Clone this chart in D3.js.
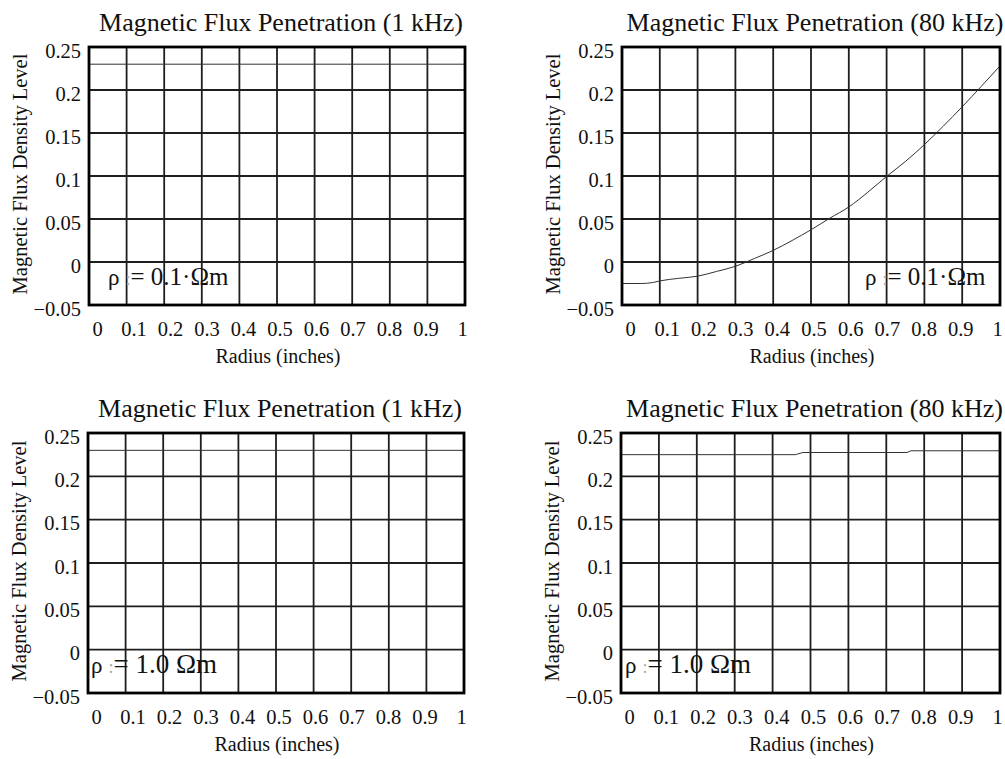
<!DOCTYPE html>
<html>
<head>
<meta charset="utf-8">
<script src="https://cdn.jsdelivr.net/npm/d3@7"></script>
<style>
  body { margin: 0; background: #fff; }
  text { font-family: "Liberation Serif", "Times New Roman", serif; fill: #111; }
</style>
</head>
<body>
<svg id="chart" width="1005" height="759"></svg>
<script>
// tick values and labels shared by all four panels
const xTicks = [0, 0.1, 0.2, 0.3, 0.4, 0.5, 0.6, 0.7, 0.8, 0.9, 1];
const xTickLabels = ['0', '0.1', '0.2', '0.3', '0.4', '0.5', '0.6', '0.7', '0.8', '0.9', '1'];
const yTicks = [0.25, 0.2, 0.15, 0.1, 0.05, 0, -0.05];
const yTickLabels = ['0.25', '0.2', '0.15', '0.1', '0.05', '0', '\u22120.05'];

const titles = [
  'Magnetic Flux Penetration (1 kHz)',
  'Magnetic Flux Penetration (80 kHz)',
  'Magnetic Flux Penetration (1 kHz)',
  'Magnetic Flux Penetration (80 kHz)'
];
const rhoValues = ['0.1\u00b7\u03a9m', '0.1\u00b7\u03a9m', '1.0 \u03a9m', '1.0 \u03a9m'];

// series: radius (inches) vs flux density level
const r1k01 = [0, 1];
const b1k01 = [0.23, 0.23];

const r80k01 = [0, 0.05, 0.08, 0.1, 0.15, 0.2, 0.25, 0.3, 0.35, 0.4, 0.45, 0.5,
  0.55, 0.6, 0.65, 0.7, 0.75, 0.8, 0.85, 0.9, 0.95, 1];
const b80k01 = [-0.025, -0.025, -0.024, -0.022, -0.019, -0.0165, -0.011, -0.005, 0.004, 0.0135, 0.025, 0.0375,
  0.051, 0.064, 0.081, 0.0995, 0.117, 0.1365, 0.158, 0.1805, 0.204, 0.228];

const r1k10 = [0, 1];
const b1k10 = [0.23, 0.23];

const r80k10 = [0, 0.46, 0.48, 0.755, 0.765, 1];
const b80k10 = [0.225, 0.225, 0.2275, 0.2275, 0.2295, 0.2295];

const series = [
  { r: r1k01, b: b1k01, smooth: false },
  { r: r80k01, b: b80k01, smooth: true },
  { r: r1k10, b: b1k10, smooth: false },
  { r: r80k10, b: b80k10, smooth: false }
];

// panel frames in page pixels
const panels = [
  { left: 89, top: 47, width: 376, height: 258, rhoX: 19, rhoSize: 25 },
  { left: 622, top: 47, width: 378, height: 258, rhoX: 243, rhoSize: 25 },
  { left: 88, top: 433, width: 376, height: 260, rhoX: 3, rhoSize: 27 },
  { left: 621, top: 433, width: 379, height: 260, rhoX: 4, rhoSize: 27 }
];

const svg = d3.select('#chart');

panels.forEach((p, i) => {
  const g = svg.append('g').attr('transform', `translate(${p.left},${p.top})`);
  const x = d3.scaleLinear().domain([0, 1]).range([0, p.width]);
  const y = d3.scaleLinear().domain([-0.05, 0.25]).range([p.height, 0]);
  // labels sit a little inside the frame at both ends
  const xLab = d3.scaleLinear().domain([0, 1]).range([8, p.width - 3]);

  // grid
  g.selectAll('line.vgrid').data(xTicks.slice(1, -1)).enter().append('line')
    .attr('class', 'vgrid')
    .attr('x1', d => x(d)).attr('x2', d => x(d))
    .attr('y1', 0).attr('y2', p.height)
    .attr('stroke', '#1e1e1e').attr('stroke-width', 1.8);
  g.selectAll('line.hgrid').data(yTicks.slice(1, -1)).enter().append('line')
    .attr('class', 'hgrid')
    .attr('x1', 0).attr('x2', p.width)
    .attr('y1', d => y(d)).attr('y2', d => y(d))
    .attr('stroke', '#1e1e1e').attr('stroke-width', 1.8);

  // curve
  const s = series[i];
  const pts = s.r.map((r, k) => [r, s.b[k]]);
  const line = d3.line()
    .x(d => x(d[0])).y(d => y(d[1]))
    .curve(s.smooth ? d3.curveMonotoneX : d3.curveLinear);
  g.append('path').datum(pts)
    .attr('d', line)
    .attr('fill', 'none').attr('stroke', '#333').attr('stroke-width', 1);

  // frame
  g.append('rect')
    .attr('width', p.width).attr('height', p.height)
    .attr('fill', 'none').attr('stroke', '#000').attr('stroke-width', 2.8);

  // axes
  const yAxis = g.append('g')
    .call(d3.axisLeft(y).tickValues(yTicks).tickSize(0).tickPadding(8)
      .tickFormat((d, k) => yTickLabels[k]));
  yAxis.select('.domain').remove();
  yAxis.selectAll('text').attr('dy', '0.5em')
    .style('font-family', '"Liberation Serif", serif').style('font-size', '20.5px').attr('fill', '#111');

  const xAxis = g.append('g').attr('transform', `translate(0,${p.height})`)
    .call(d3.axisBottom(xLab).tickValues(xTicks).tickSize(0).tickPadding(16)
      .tickFormat((d, k) => xTickLabels[k]));
  xAxis.select('.domain').remove();
  xAxis.selectAll('text')
    .style('font-family', '"Liberation Serif", serif').style('font-size', '20.5px').attr('fill', '#111');

  // titles and axis labels
  g.append('text')
    .attr('x', p.width / 2 + 4).attr('y', -16)
    .attr('text-anchor', 'middle')
    .style('font-size', '26px')
    .text(titles[i]);

  g.append('text')
    .attr('transform', `translate(-62,${p.height / 2 - 2}) rotate(-90)`)
    .attr('text-anchor', 'middle')
    .style('font-size', '20.5px')
    .text('Magnetic Flux Density Level');

  g.append('text')
    .attr('x', p.width / 2 + 1).attr('y', p.height + 58)
    .attr('text-anchor', 'middle')
    .style('font-size', '20px')
    .text('Radius (inches)');

  // resistivity note
  const note = g.append('text')
    .attr('x', p.rhoX).attr('y', p.height - 20);
  note.append('tspan').style('font-size', '23px').text('\u03c1');
  note.append('tspan').attr('dx', 6).style('font-size', '18px').attr('fill', '#aaa').text(':');
  note.append('tspan').style('font-size', p.rhoSize + 'px').text('= ' + rhoValues[i]);
});
</script>
</body>
</html>
